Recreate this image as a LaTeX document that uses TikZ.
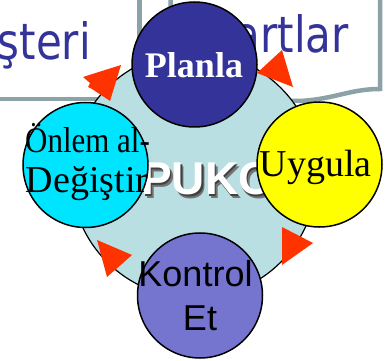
\documentclass[tikz,border=0pt]{standalone}
\usepackage{fontspec}
\usepackage{graphicx}
\setmainfont{Liberation Serif}
\newfontfamily\arialf{Liberation Sans}
\newfontfamily\boxf[FakeStretch=0.84]{DejaVu Sans}
\definecolor{boxtext}{HTML}{333399}
\definecolor{boxgray}{HTML}{8CA2A6}
\definecolor{ringbg}{HTML}{B9DFE3}
\definecolor{arrred}{HTML}{FF3300}
\definecolor{planc}{HTML}{333399}
\definecolor{cyanc}{HTML}{00E5FF}
\definecolor{yellowc}{HTML}{FFFF00}
\definecolor{kontc}{HTML}{7575D0}
\tikzset{
  boxline/.style={draw=boxgray, line width=4.5pt, fill=white},
  boxtxt/.style={text=boxtext, font=\boxf\fontsize{50}{54}\selectfont, inner sep=0pt},
  stage/.style={circle, draw=black, line width=1.5pt, minimum size=125pt, inner sep=0pt, outer sep=0pt},
  redhead/.style={fill=arrred},
  serift/.style={anchor=base, inner sep=0pt, text=black},
}
\newcommand{\shadowtext}[1]{\rlap{\hspace{3pt}\raisebox{-3pt}{\textcolor{black!55}{#1}}}\rlap{\hspace{1.5pt}\raisebox{-1.5pt}{\textcolor{black!75}{#1}}}#1}
\begin{document}
\begin{tikzpicture}[x=1pt,y=-1pt]
\useasboundingbox (0,0) rectangle (389,361);
\clip (0,0) rectangle (389,361);
% background boxes
\draw[boxline] (-10,-10) rectangle (139.5,99);
\draw[boxline] (170.5,-10) -- (170.5,101) -- (300,101) .. controls (335,99) and (350,89) .. (380,89) -- (380,-10);
\node[boxtxt, anchor=base east] (cust) at (91,60) {şteri};
\node[boxtxt, anchor=base east] (cond) at (349,53) {artlar};
% ring
\node[circle, draw=black, line width=1.2pt, fill=ringbg, minimum size=246pt, inner sep=0pt] (ring) at (194,175) {};
% arrowheads
\fill[redhead] (83,77) -- (90,83) -- (88,87) -- (92,89) -- (110,101) -- (121,65) -- cycle;
\fill[redhead] (257,73) -- (282,50) -- (293,87) -- cycle;
\fill[redhead] (282,227) -- (313,243) -- (282,265) -- cycle;
\fill[redhead] (97,240) -- (132,255) -- (107,277) -- cycle;
% PUKO
\node[anchor=base west, inner sep=0pt, text=white, font=\arialf\bfseries\fontsize{46}{50}\selectfont] (puko) at (141,195) {\shadowtext{PUKO}};
% stage circles
\node[stage, fill=planc] (plan) at (194.5,64.5) {};
\node[stage, fill=yellowc] (uyg) at (319.5,164.5) {};
\node[stage, fill=cyanc] (onl) at (85.5,165) {};
\node[stage, fill=kontc] (kon) at (200,295.5) {};
% labels
\node[serift, text=white, font=\bfseries\fontsize{36}{40}\selectfont] (plant) at (194,78) {Planla};
\node[serift, font=\fontsize{38}{42}\selectfont] (uygt) at (315.5,177) {Uygula};
\node[serift, font=\fontsize{36}{40}\selectfont] (onlt1) at (87.5,153) {\scalebox{0.86}[1]{Önlem al-}};
\node[serift, font=\fontsize{38}{42}\selectfont] (onlt2) at (87,193) {Değiştir};
\node[serift, font=\arialf\fontsize{36}{40}\selectfont] (kont1) at (195.5,287) {Kontrol};
\node[serift, font=\arialf\fontsize{36}{40}\selectfont] (kont2) at (200,330) {Et};
\end{tikzpicture}
\end{document}
